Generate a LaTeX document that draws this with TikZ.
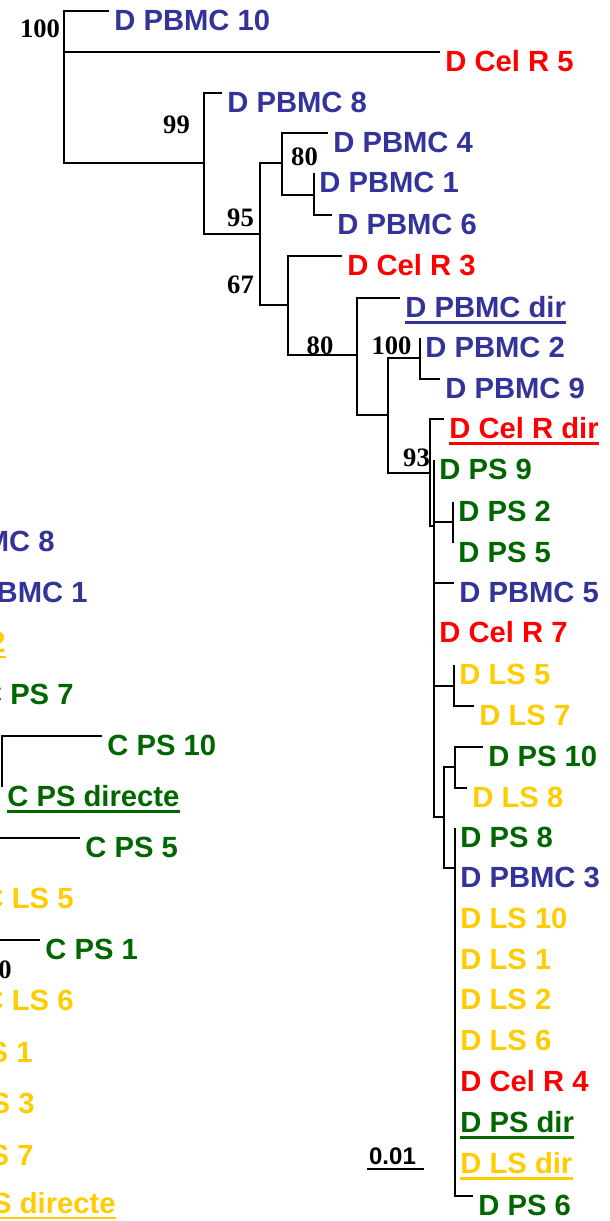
\documentclass[tikz,border=0pt]{standalone}
\usepackage{fontspec}
\setmainfont{Liberation Sans}
\newfontfamily\bootserif{Liberation Serif}
\definecolor{pbmc}{RGB}{51,51,153}
\definecolor{celr}{RGB}{255,0,0}
\definecolor{psg}{RGB}{0,102,0}
\definecolor{lsy}{RGB}{255,204,0}
\tikzset{
branch/.style={line width=1pt},
leaf/.style={anchor=base west, inner sep=0pt, xshift=2.5pt, yshift=-9.75pt,
  font=\bfseries\fontsize{14.6}{17}\selectfont},
cutleaf/.style={anchor=base east, inner sep=0pt,
  font=\bfseries\fontsize{14.6}{17}\selectfont},
boot/.style={anchor=base, inner sep=0pt,
  font=\bootserif\bfseries\fontsize{13.3}{15}\selectfont},
uline/.style={line width=1.2pt}
}
\begin{document}
\begin{tikzpicture}[x=0.5pt, y=-0.5pt]
\useasboundingbox (0,0) rectangle (610,1221);
\clip (0,0) rectangle (610,1221);

% inner nodes
\coordinate (root) at (64,52);
\coordinate (n99) at (204,163);
\coordinate (n95) at (260,234);
\coordinate (n80) at (282,163);
\coordinate (n16) at (314,195);
\coordinate (n67) at (288,305);
\coordinate (n80b) at (357,355);
\coordinate (n3) at (388,415);
\coordinate (n100) at (420,358);
\coordinate (n93) at (430,473);
\coordinate (npoly) at (434,526);
\coordinate (n2) at (453,522);
\coordinate (n5) at (454,686);
\coordinate (n444) at (444,817);
\coordinate (n10) at (455,767);
\coordinate (n455) at (455,868);

% tips
\coordinate (pbmc10) at (109,11);
\coordinate (celr5) at (440,52);
\coordinate (pbmc8) at (222,93);
\coordinate (pbmc4) at (328,133);
\coordinate (pbmc1) at (314,173);
\coordinate (pbmc6) at (332,215);
\coordinate (celr3) at (342,256);
\coordinate (pbmcdir) at (400,298);
\coordinate (pbmc2) at (420,338);
\coordinate (pbmc9) at (440,379);
\coordinate (celrdir) at (444,419);
\coordinate (ps9) at (434,460);
\coordinate (ps2) at (453,502);
\coordinate (ps5) at (453,543);
\coordinate (pbmc5) at (454,583);
\coordinate (celr7) at (434,623);
\coordinate (ls5) at (454,665);
\coordinate (ls7) at (474,706);
\coordinate (ps10) at (483,747);
\coordinate (ls8) at (467,788);
\coordinate (ps8) at (455,828);
\coordinate (pbmc3) at (455,868);
\coordinate (ls10) at (455,909);
\coordinate (ls1) at (455,950);
\coordinate (ls2) at (455,990);
\coordinate (ls6) at (455,1031);
\coordinate (celr4) at (455,1072);
\coordinate (psdir) at (455,1113);
\coordinate (lsdir) at (455,1154);
\coordinate (ps6) at (473,1196);

% branches
\draw[branch] (root) |- (pbmc10) (root) |- (celr5) (root) |- (n99);
\draw[branch] (n99) |- (pbmc8) (n99) |- (n95);
\draw[branch] (n95) |- (n80) (n95) |- (n67);
\draw[branch] (n80) |- (pbmc4) (n80) |- (n16);
\draw[branch] (n16) |- (pbmc1) (n16) |- (pbmc6);
\draw[branch] (n67) |- (celr3) (n67) |- (n80b);
\draw[branch] (n80b) |- (pbmcdir) (n80b) |- (n3);
\draw[branch] (n3) |- (n100) (n3) |- (n93);
\draw[branch] (n100) |- (pbmc2) (n100) |- (pbmc9);
\draw[branch] (n93) |- (celrdir) (n93) |- (npoly);
\draw[branch] (npoly) |- (ps9) (npoly) |- (n2) (npoly) |- (pbmc5)
  (npoly) |- (celr7) (npoly) |- (n5) (npoly) |- (n444);
\draw[branch] (n2) |- (ps2) (n2) |- (ps5);
\draw[branch] (n5) |- (ls5) (n5) |- (ls7);
\draw[branch] (n444) |- (n10) (n444) |- (n455);
\draw[branch] (n10) |- (ps10) (n10) |- (ls8);
\draw[branch] (n455) |- (ps8) (n455) |- (ps6);

% labels
\node[leaf, text=pbmc] (Lpbmc10) at (pbmc10) {D PBMC 10};
\node[leaf, text=celr] (Lcelr5) at (celr5) {D Cel R 5};
\node[leaf, text=pbmc] (Lpbmc8) at (pbmc8) {D PBMC 8};
\node[leaf, text=pbmc] (Lpbmc4) at (pbmc4) {D PBMC 4};
\node[leaf, text=pbmc] (Lpbmc1) at (pbmc1) {D PBMC 1};
\node[leaf, text=pbmc] (Lpbmc6) at (pbmc6) {D PBMC 6};
\node[leaf, text=celr] (Lcelr3) at (celr3) {D Cel R 3};
\node[leaf, text=pbmc] (Lpbmcdir) at (pbmcdir) {D PBMC dir};
\node[leaf, text=pbmc] (Lpbmc2) at (pbmc2) {D PBMC 2};
\node[leaf, text=pbmc] (Lpbmc9) at (pbmc9) {D PBMC 9};
\node[leaf, text=celr] (Lcelrdir) at (celrdir) {D Cel R dir};
\node[leaf, text=psg] (Lps9) at (ps9) {D PS 9};
\node[leaf, text=psg] (Lps2) at (ps2) {D PS 2};
\node[leaf, text=psg] (Lps5) at (ps5) {D PS 5};
\node[leaf, text=pbmc] (Lpbmc5) at (pbmc5) {D PBMC 5};
\node[leaf, text=celr] (Lcelr7) at (celr7) {D Cel R 7};
\node[leaf, text=lsy] (Lls5) at (ls5) {D LS 5};
\node[leaf, text=lsy] (Lls7) at (ls7) {D LS 7};
\node[leaf, text=psg] (Lps10) at (ps10) {D PS 10};
\node[leaf, text=lsy] (Lls8) at (ls8) {D LS 8};
\node[leaf, text=psg] (Lps8) at (ps8) {D PS 8};
\node[leaf, text=pbmc] (Lpbmc3) at (pbmc3) {D PBMC 3};
\node[leaf, text=lsy] (Lls10) at (ls10) {D LS 10};
\node[leaf, text=lsy] (Lls1) at (ls1) {D LS 1};
\node[leaf, text=lsy] (Lls2) at (ls2) {D LS 2};
\node[leaf, text=lsy] (Lls6) at (ls6) {D LS 6};
\node[leaf, text=celr] (Lcelr4) at (celr4) {D Cel R 4};
\node[leaf, text=psg] (Lpsdir) at (psdir) {D PS dir};
\node[leaf, text=lsy] (Llsdir) at (lsdir) {D LS dir};
\node[leaf, text=psg] (Lps6) at (ps6) {D PS 6};
\draw[uline, pbmc] ([yshift=-2.5pt]Lpbmcdir.base west) -- ([yshift=-2.5pt]Lpbmcdir.base east);
\draw[uline, celr] ([yshift=-2.5pt]Lcelrdir.base west) -- ([yshift=-2.5pt]Lcelrdir.base east);
\draw[uline, psg] ([yshift=-2.5pt]Lpsdir.base west) -- ([yshift=-2.5pt]Lpsdir.base east);
\draw[uline, lsy] ([yshift=-2.5pt]Llsdir.base west) -- ([yshift=-2.5pt]Llsdir.base east);

% bootstrap values
\node[boot] (b100) at (40,37) {100};
\node[boot] (b99) at (176.5,133) {99};
\node[boot] (b80) at (304.5,165) {80};
\node[boot] (b95) at (240.5,226) {95};
\node[boot] (b67) at (240.5,293) {67};
\node[boot] (b80b) at (320,354) {80};
\node[boot] (b100b) at (391.5,354) {100};
\node[boot] (b93) at (416.5,466) {93};

% scale bar
\coordinate (sbl) at (367,1169);
\coordinate (sbr) at (424,1169);
\draw[branch] (sbl) -- (sbr);
\node[anchor=base, inner sep=0pt, font=\bfseries\fontsize{12}{14}\selectfont] (sbt) at (392.5,1164) {0.01};

% second tree, cut at the left edge
\coordinate (cn1) at (2,787);
\coordinate (cn2) at (-20,838);
\coordinate (cn3) at (-20,940);
\coordinate (cps10) at (102,736);
\coordinate (cpsdir) at (2,787);
\coordinate (cps5) at (80,838);
\coordinate (cps1) at (40,940);
\draw[branch] (cn1) |- (cps10) (cn1) |- (cpsdir);
\draw[branch] (cn2) |- (cps5);
\draw[branch] (cn3) |- (cps1);
\node[leaf, text=psg] (Lcps10) at (cps10) {C PS 10};
\node[leaf, text=psg] (Lcpsdir) at (cpsdir) {C PS directe};
\node[leaf, text=psg] (Lcps5) at (cps5) {C PS 5};
\node[leaf, text=psg] (Lcps1) at (cps1) {C PS 1};
\draw[uline, psg] ([yshift=-2.5pt]Lcpsdir.base west) -- ([yshift=-2.5pt]Lcpsdir.base east);
\node[cutleaf, text=pbmc] (Lcpbmc8) at (55,551) {C PBMC 8};
\node[cutleaf, text=pbmc] (Lcpbmc1) at (88,602) {C PBMC 1};
\node[cutleaf, text=lsy] (Lcls2) at (6,652) {C LS 2};
\node[cutleaf, text=psg] (Lcps7) at (74,704) {C PS 7};
\node[cutleaf, text=lsy] (Lcls5) at (74,908) {C LS 5};
\node[cutleaf, text=lsy] (Lcls6) at (74,1010) {C LS 6};
\node[cutleaf, text=lsy] (Lcls1) at (33,1062) {C LS 1};
\node[cutleaf, text=lsy] (Lcls3) at (35,1113) {C LS 3};
\node[cutleaf, text=lsy] (Lcls7) at (34,1165) {C LS 7};
\node[cutleaf, text=lsy] (Lclsdir) at (116,1213) {C LS directe};
\draw[uline, lsy] ([yshift=-2.5pt]Lcls2.base west) -- ([yshift=-2.5pt]Lcls2.base east);
\draw[uline, lsy] ([yshift=-2.5pt]Lclsdir.base west) -- ([yshift=-2.5pt]Lclsdir.base east);
\node[boot, anchor=base east] (b100c) at (12,978) {100};
\end{tikzpicture}
\end{document}
